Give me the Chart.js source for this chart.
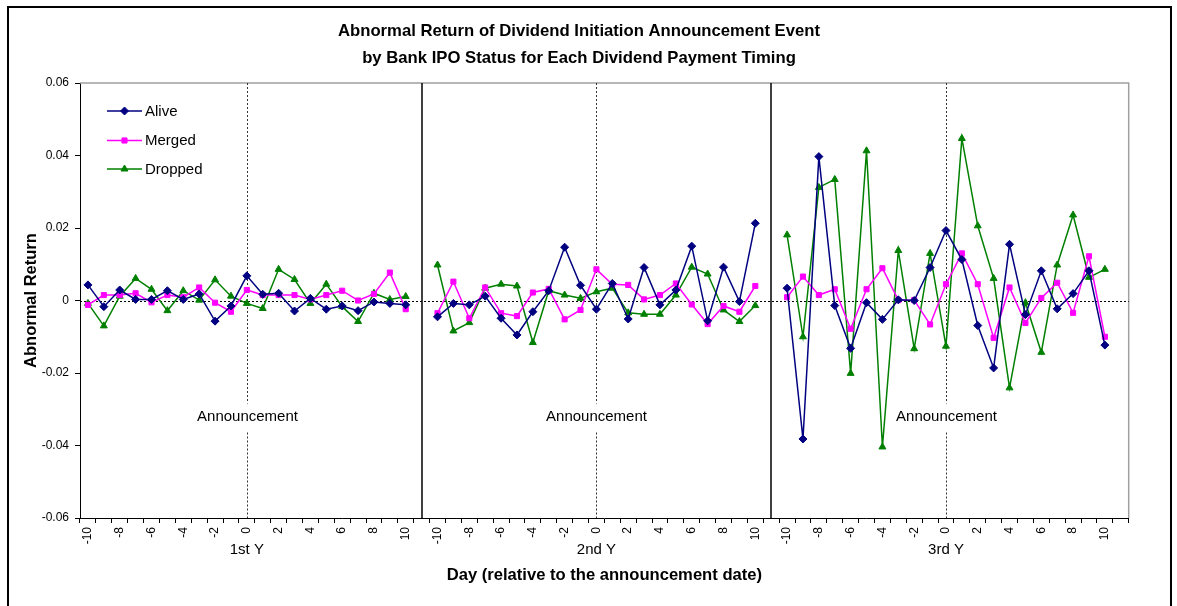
<!DOCTYPE html>
<html><head><meta charset="utf-8">
<script src="https://cdn.jsdelivr.net/npm/chart.js@4/dist/chart.umd.min.js"></script>
<style>
html,body{margin:0;padding:0;background:#fff;overflow:hidden;}
#wrap{position:relative;width:1177px;height:606px;}
#frame{position:absolute;left:7px;top:6px;width:1161px;height:700px;border:2px solid #000;pointer-events:none;}
canvas{position:absolute;left:0;top:0;}
</style></head><body>
<div id="wrap"><canvas id="c" width="1177" height="606"></canvas><div id="frame"></div></div>
<script>
const days = [-10,-9,-8,-7,-6,-5,-4,-3,-2,-1,0,1,2,3,4,5,6,7,8,9,10];
const groupNames = ['1st Y','2nd Y','3rd Y'];
const seriesNames = ['Alive','Merged','Dropped'];
const yTicks = [-0.06,-0.04,-0.02,0,0.02,0.04,0.06];

const alive1st   = [0.0043,-0.0017,0.0029,0.0003,0.0003,0.0027,0.0003,0.0018,-0.0057,-0.0015,0.0068,0.0017,0.0020,-0.0029,0.0006,-0.0024,-0.0015,-0.0028,-0.0004,-0.0008,-0.0012];
const merged1st  = [-0.0012,0.0015,0.0015,0.0020,-0.0005,0.0015,0.0009,0.0036,-0.0006,-0.0031,0.0029,0.0015,0.0015,0.0015,0.0003,0.0015,0.0027,0.0000,0.0018,0.0077,-0.0024];
const dropped1st = [-0.0008,-0.0070,0.0012,0.0061,0.0031,-0.0028,0.0027,0.0001,0.0057,0.0012,-0.0008,-0.0022,0.0086,0.0058,-0.0008,0.0045,-0.0017,-0.0058,0.0020,0.0003,0.0011];

const alive2nd   = [-0.0045,-0.0008,-0.0012,0.0012,-0.0049,-0.0095,-0.0031,0.0027,0.0147,0.0042,-0.0024,0.0047,-0.0051,0.0091,-0.0012,0.0029,0.0150,-0.0056,0.0092,-0.0003,0.0213];
const merged2nd  = [-0.0035,0.0052,-0.0049,0.0036,-0.0035,-0.0043,0.0022,0.0032,-0.0052,-0.0026,0.0086,0.0045,0.0043,0.0003,0.0015,0.0047,-0.0011,-0.0065,-0.0015,-0.0031,0.0040];
const dropped2nd = [0.0098,-0.0084,-0.0061,0.0034,0.0045,0.0040,-0.0116,0.0027,0.0015,0.0006,0.0024,0.0034,-0.0034,-0.0038,-0.0038,0.0015,0.0092,0.0073,-0.0026,-0.0058,-0.0014];

const alive3rd   = [0.0034,-0.0382,0.0397,-0.0014,-0.0132,-0.0006,-0.0052,0.0002,0.0000,0.0091,0.0193,0.0113,-0.0069,-0.0186,0.0155,-0.0039,0.0082,-0.0023,0.0019,0.0082,-0.0123];
const merged3rd  = [0.0009,0.0066,0.0015,0.0031,-0.0078,0.0031,0.0089,0.0001,0.0001,-0.0066,0.0045,0.0130,0.0045,-0.0103,0.0036,-0.0062,0.0007,0.0049,-0.0034,0.0122,-0.0100];
const dropped3rd = [0.0181,-0.0100,0.0312,0.0334,-0.0201,0.0413,-0.0404,0.0138,-0.0133,0.0130,-0.0126,0.0447,0.0206,0.0061,-0.0241,-0.0006,-0.0143,0.0098,0.0236,0.0064,0.0086];

const titleLines = ['Abnormal Return of Dividend Initiation Announcement Event','by Bank IPO Status for Each Dividend Payment Timing'];
const xTitle = 'Day (relative to the announcement date)';
const yTitle = 'Abnormal Return';
const annText = 'Announcement';

// build category axis: each group of days followed by one empty category
const labels = [];
const groupStart = [];
const gapIdx = [];
groupNames.forEach((g, gi) => {
  groupStart.push(labels.length);
  days.forEach(d => labels.push(String(d)));
  gapIdx.push(labels.length);
  labels.push('');
});
function joinGroups(a, b, c) { return [...a, null, ...b, null, ...c, null]; }

const FONT = 'Liberation Sans';
Chart.defaults.font.family = FONT;
Chart.defaults.color = '#000';

const colors = ['#000080', '#FF00FF', '#008000'];
const styles = ['rectRot', 'rect', 'triangle'];
const radii = [4, 3.6, 4];

function drawMarker(ctx, style, x, y, r, color) {
  ctx.save();
  ctx.fillStyle = color; ctx.strokeStyle = color; ctx.lineWidth = 1;
  ctx.beginPath();
  if (style === 'rectRot') {
    ctx.moveTo(x - r, y); ctx.lineTo(x, y - r); ctx.lineTo(x + r, y); ctx.lineTo(x, y + r); ctx.closePath();
  } else if (style === 'rect') {
    const s = r * Math.SQRT1_2; ctx.rect(x - s, y - s, 2 * s, 2 * s);
  } else {
    ctx.moveTo(x, y - r); ctx.lineTo(x + r * 0.866, y + r / 2); ctx.lineTo(x - r * 0.866, y + r / 2); ctx.closePath();
  }
  ctx.fill(); ctx.stroke();
  ctx.restore();
}

const decor = {
  id: 'decor',
  beforeDatasetsDraw(chart) {
    const {ctx, chartArea: a, scales: {x, y}} = chart;
    ctx.save();
    ctx.strokeStyle = '#a0a0a0'; ctx.lineWidth = 1.5;
    ctx.beginPath(); ctx.moveTo(a.left, a.top); ctx.lineTo(a.right, a.top); ctx.lineTo(a.right, a.bottom); ctx.stroke();
    const y0 = Math.round(y.getPixelForValue(0)) + 0.5;
    ctx.strokeStyle = '#000'; ctx.lineWidth = 1; ctx.setLineDash([2, 2]);
    ctx.beginPath(); ctx.moveTo(a.left, y0); ctx.lineTo(a.right, y0); ctx.stroke();
    ctx.setLineDash([]); ctx.lineWidth = 1.5; ctx.strokeStyle = '#000';
    gapIdx.slice(0, 2).forEach(i => {
      const px = Math.round(x.getPixelForValue(i));
      ctx.beginPath(); ctx.moveTo(px, a.top); ctx.lineTo(px, a.bottom); ctx.stroke();
    });
    const ty = y.getPixelForValue(-0.032);
    ctx.font = '15px ' + FONT; ctx.textAlign = 'center'; ctx.textBaseline = 'middle'; ctx.fillStyle = '#000';
    groupStart.forEach(s => {
      const px = Math.round(x.getPixelForValue(s + 10)) + 0.5;
      ctx.setLineDash([2, 2]); ctx.lineWidth = 1; ctx.strokeStyle = '#333';
      ctx.beginPath(); ctx.moveTo(px, a.top); ctx.lineTo(px, ty - 13); ctx.stroke();
      ctx.beginPath(); ctx.moveTo(px, ty + 16); ctx.lineTo(px, a.bottom); ctx.stroke();
      ctx.setLineDash([]);
      ctx.fillText(annText, px, ty);
    });
    ctx.restore();
  },
  afterDraw(chart) {
    const {ctx, scales: {x}} = chart;
    ctx.save();
    ctx.font = '15px ' + FONT; ctx.textAlign = 'center'; ctx.textBaseline = 'middle'; ctx.fillStyle = '#000';
    groupStart.forEach((s, gi) => {
      ctx.fillText(groupNames[gi], x.getPixelForValue(s + 10), 550);
    });
    const ly = [111, 140.5, 169];
    chart.data.datasets.forEach((ds, i) => {
      ctx.strokeStyle = ds.borderColor; ctx.lineWidth = 1.5;
      ctx.beginPath(); ctx.moveTo(107, ly[i]); ctx.lineTo(142, ly[i]); ctx.stroke();
      drawMarker(ctx, styles[i], 124.5, ly[i], radii[i], colors[i]);
      ctx.fillStyle = '#000'; ctx.textAlign = 'left';
      ctx.fillText(ds.label, 145, ly[i] + 0.5);
    });
    ctx.restore();
  }
};

const seriesData = [
  joinGroups(alive1st, alive2nd, alive3rd),
  joinGroups(merged1st, merged2nd, merged3rd),
  joinGroups(dropped1st, dropped2nd, dropped3rd)
];

new Chart(document.getElementById('c'), {
  type: 'line',
  data: {
    labels,
    datasets: seriesNames.map((n, i) => ({
      label: n,
      data: seriesData[i],
      borderColor: colors[i],
      backgroundColor: colors[i],
      borderWidth: 1.5,
      pointStyle: styles[i],
      pointRadius: radii[i],
      pointBorderWidth: 1,
      pointBackgroundColor: colors[i],
      pointBorderColor: colors[i],
      spanGaps: false,
      tension: 0
    }))
  },
  options: {
    responsive: false,
    animation: false,
    devicePixelRatio: 1,
    layout: { padding: { left: 0, right: 19, top: 0, bottom: 0 } },
    plugins: {
      legend: { display: false },
      tooltip: { enabled: false },
      title: {
        display: true,
        text: titleLines,
        color: '#000',
        font: { size: 16.7, weight: 'bold', family: FONT, lineHeight: 1.62 },
        padding: { top: 17.5, bottom: 11.4 }
      }
    },
    scales: {
      x: {
        type: 'category',
        offset: true,
        grid: { display: true, drawOnChartArea: false, drawTicks: true, tickLength: 5, color: '#000', offset: true },
        border: { display: true, color: '#000', width: 1 },
        ticks: {
          autoSkip: false, maxRotation: 90, minRotation: 90, padding: 4,
          font: { size: 12, family: FONT }, color: '#000',
          callback: (v, i) => (i % 2 === 0 ? labels[i] : '')
        },
        title: { display: true, text: xTitle, color: '#000', font: { size: 16.6, weight: 'bold', family: FONT, lineHeight: 1.2 }, padding: { top: 0, bottom: 21 } },
        afterFit: s => { s.height = 88; }
      },
      y: {
        type: 'linear',
        position: 'left',
        min: -0.06, max: 0.06,
        afterBuildTicks: s => { s.ticks = yTicks.map(v => ({ value: v })); },
        grid: { display: true, drawOnChartArea: false, drawTicks: true, tickLength: 5, color: '#000' },
        border: { display: true, color: '#000', width: 1 },
        ticks: {
          padding: 6, font: { size: 12, family: FONT }, color: '#000',
          callback: v => { const r = Math.round(v * 100) / 100; return r === 0 ? '0' : r.toFixed(2); }
        },
        title: { display: true, text: yTitle, color: '#000', font: { size: 16.5, weight: 'bold', family: FONT, lineHeight: 1.2 }, padding: { top: 22, bottom: 0 } },
        afterFit: s => { s.width = 80; }
      },
      yR: {
        type: 'linear',
        position: 'right',
        display: true,
        min: 0, max: 1,
        grid: { display: false },
        border: { display: false },
        ticks: { display: false },
        afterFit: s => { s.width = 29.3; }
      }
    }
  },
  plugins: [decor]
});
</script>
</body></html>
